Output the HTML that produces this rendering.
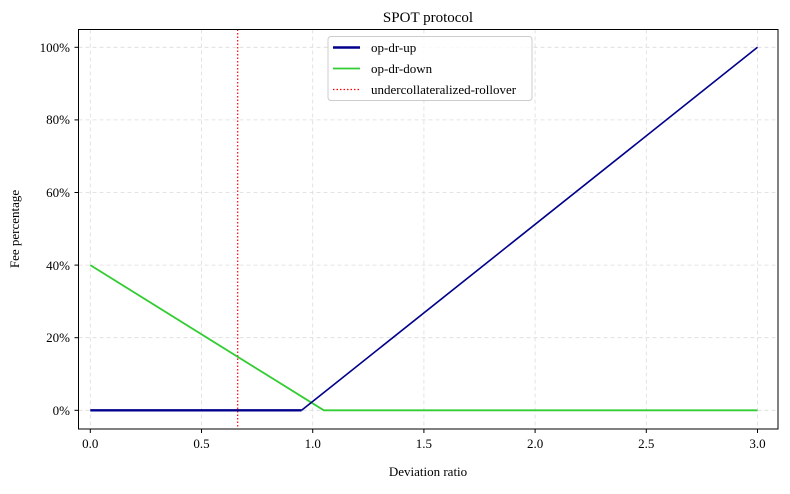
<!DOCTYPE html>
<html><head><meta charset="utf-8"><style>
body{margin:0;background:#fff}
svg text{font-family:"Liberation Serif",serif;fill:#000}
</style></head><body>
<svg width="790" height="489" viewBox="0 0 790 489">
<rect width="790" height="489" fill="#fff"/>
<g stroke="#dcdcdc" stroke-width="0.8" stroke-dasharray="4,3">
<line x1="90.3" y1="29.5" x2="90.3" y2="429"/>
<line x1="201.5" y1="29.5" x2="201.5" y2="429"/>
<line x1="312.7" y1="29.5" x2="312.7" y2="429"/>
<line x1="423.9" y1="29.5" x2="423.9" y2="429"/>
<line x1="535.1" y1="29.5" x2="535.1" y2="429"/>
<line x1="646.3" y1="29.5" x2="646.3" y2="429"/>
<line x1="757.5" y1="29.5" x2="757.5" y2="429"/>
<line x1="78.5" y1="410.3" x2="778" y2="410.3"/>
<line x1="78.5" y1="337.7" x2="778" y2="337.7"/>
<line x1="78.5" y1="265.1" x2="778" y2="265.1"/>
<line x1="78.5" y1="192.5" x2="778" y2="192.5"/>
<line x1="78.5" y1="119.9" x2="778" y2="119.9"/>
<line x1="78.5" y1="47.3" x2="778" y2="47.3"/>
</g>
<line x1="237.7" y1="29.5" x2="237.7" y2="429" stroke="#f00" stroke-width="1.2" stroke-dasharray="1.5,2"/>
<polyline points="90.3,265.1 323.8,410.3 757.5,410.3" fill="none" stroke="#32cd32" stroke-width="1.8"/>
<line x1="90.3" y1="410.3" x2="301.6" y2="410.3" stroke="#00008b" stroke-width="2.4"/>
<line x1="301.6" y1="410.3" x2="757.5" y2="47.3" stroke="#00008b" stroke-width="1.6"/>
<rect x="78.5" y="29.5" width="699.5" height="399.5" fill="none" stroke="#000" stroke-width="1"/>
<g stroke="#000" stroke-width="1">
<line x1="90.3" y1="429" x2="90.3" y2="433"/><line x1="201.5" y1="429" x2="201.5" y2="433"/>
<line x1="312.7" y1="429" x2="312.7" y2="433"/><line x1="423.9" y1="429" x2="423.9" y2="433"/>
<line x1="535.1" y1="429" x2="535.1" y2="433"/><line x1="646.3" y1="429" x2="646.3" y2="433"/>
<line x1="757.5" y1="429" x2="757.5" y2="433"/>
<line x1="74.5" y1="410.3" x2="78.5" y2="410.3"/><line x1="74.5" y1="337.7" x2="78.5" y2="337.7"/>
<line x1="74.5" y1="265.1" x2="78.5" y2="265.1"/><line x1="74.5" y1="192.5" x2="78.5" y2="192.5"/>
<line x1="74.5" y1="119.9" x2="78.5" y2="119.9"/><line x1="74.5" y1="47.3" x2="78.5" y2="47.3"/>
</g>
<g font-size="13" text-anchor="middle">
<text x="90.3" y="448">0.0</text><text x="201.5" y="448">0.5</text><text x="312.7" y="448">1.0</text>
<text x="423.9" y="448">1.5</text><text x="535.1" y="448">2.0</text><text x="646.3" y="448">2.5</text>
<text x="757.5" y="448">3.0</text>
</g>
<g font-size="13" text-anchor="end">
<text x="70" y="415">0%</text><text x="70" y="342">20%</text><text x="70" y="270">40%</text>
<text x="70" y="197">60%</text><text x="70" y="124">80%</text><text x="70" y="52">100%</text>
</g>
<text x="428" y="22" font-size="15" text-anchor="middle">SPOT protocol</text>
<text x="428" y="476" font-size="13" text-anchor="middle">Deviation ratio</text>
<text x="19" y="229" font-size="13" text-anchor="middle" transform="rotate(-90 19 229)">Fee percentage</text>
<rect x="328" y="36.5" width="204" height="64" rx="3" fill="#fff" fill-opacity="0.8" stroke="#ccc"/>
<line x1="333" y1="47.5" x2="360" y2="47.5" stroke="#00008b" stroke-width="2.4"/>
<line x1="333" y1="68.5" x2="360" y2="68.5" stroke="#32cd32" stroke-width="1.8"/>
<line x1="333" y1="89.5" x2="360" y2="89.5" stroke="#f00" stroke-width="1.2" stroke-dasharray="1.5,2"/>
<g font-size="13"><text x="371" y="52">op-dr-up</text><text x="371" y="73">op-dr-down</text><text x="371" y="94">undercollateralized-rollover</text></g>
</svg>
</body></html>
